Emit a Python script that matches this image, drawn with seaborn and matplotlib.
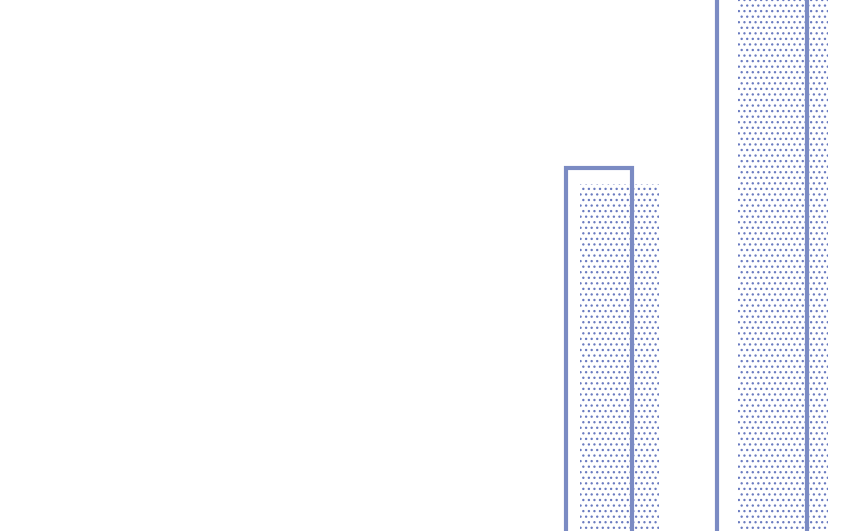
import matplotlib
matplotlib.use("Agg")
import matplotlib.pyplot as plt
import seaborn as sns

# data
categories = ["C", "D"]
outline_vals = [81.0, 112.0]
dotted_vals = [79.2, 110.0]

# styling
outline_color = "#7b8bc3"
dot_color = "#6a7bc0"
outline_widths = [0.405, 0.552]
dotted_widths = [0.49, 0.552]
dotted_shift = 0.126

sns.set_theme(style="white")
plt.rcParams["hatch.linewidth"] = 0.9

fig = plt.figure(figsize=(8.5, 5.31), dpi=100)
ax = fig.add_axes([0, 0, 1, 1])

# dotted bars (behind)
sns.barplot(x=categories, y=dotted_vals, color=dot_color, ax=ax,
            hatch="...", facecolor="none", edgecolor=dot_color, linewidth=0)
for p, w in zip(ax.patches, dotted_widths):
    cx = p.get_x() + p.get_width() / 2 + dotted_shift
    p.set_width(w)
    p.set_x(cx - w / 2)
n_dot = len(ax.patches)

# outlined bars
sns.barplot(x=categories, y=outline_vals, fill=False, color=outline_color,
            linewidth=3, ax=ax)
for p, w in zip(ax.patches[n_dot:], outline_widths):
    cx = p.get_x() + p.get_width() / 2
    p.set_width(w)
    p.set_x(cx - w / 2)

ax.set_xlim(-3.675, 1.54)
ax.set_ylim(40, 100)
ax.set_axis_off()

fig.savefig("out.png", dpi=100)
